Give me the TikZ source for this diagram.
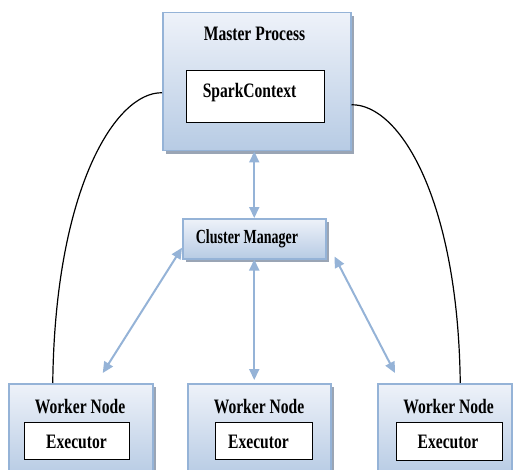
\documentclass[tikz,border=0pt]{standalone}
\usepackage{fontspec}
\setmainfont{Liberation Serif}
\newfontfamily\lblfont[FakeStretch=0.76]{Liberation Serif}
\newfontfamily\cmfont[FakeStretch=0.70]{Liberation Serif}
\usetikzlibrary{arrows.meta,shadows}
\definecolor{bordblue}{HTML}{95B3D7}
\definecolor{topfill}{HTML}{EEF2F9}
\definecolor{botfill}{HTML}{B7CBE4}
\definecolor{shadowgray}{HTML}{9AA5B5}
\definecolor{arrblue}{HTML}{95B3D7}
\begin{document}
\begin{tikzpicture}[x=1pt,y=-1pt,
  outerbox/.style={rectangle, draw=bordblue, line width=1.5pt, top color=topfill, bottom color=botfill,
    drop shadow={shadow xshift=3pt, shadow yshift=-3pt, fill=shadowgray, opacity=1},
    inner sep=0pt, anchor=north west},
  innerbox/.style={rectangle, draw=black, line width=1.4pt, fill=white, inner sep=0pt, anchor=north west},
  lbl/.style={inner sep=0pt, anchor=base, font=\fontsize{20.5}{24}\lblfont\bfseries},
  cmlbl/.style={inner sep=0pt, anchor=base, font=\fontsize{20}{24}\cmfont\bfseries},
  arr/.style={draw=arrblue, line width=2pt, {Triangle[length=11pt,width=10pt]}-{Triangle[length=11pt,width=10pt]}},
  curve/.style={draw=black, line width=1.2pt}]
\useasboundingbox (0,0) rectangle (513,470);

% Master
\node[outerbox, minimum width=188pt, minimum height=138pt] (master) at (162,12) {};
\node[lbl] (mastertxt) at (254.5,41) {Master Process};
\node[innerbox, minimum width=138pt, minimum height=52pt] (spark) at (186,70) {};
\node[lbl] (sparktxt) at (249.5,98) {SparkContext};

% Cluster manager
\node[outerbox, minimum width=143pt, minimum height=40pt] (cm) at (182,218) {};
\node[cmlbl] (cmtxt) at (247,243) {Cluster Manager};

% Workers
\node[outerbox, minimum width=144pt, minimum height=92pt] (w1) at (8,383) {};
\node[outerbox, minimum width=143pt, minimum height=92pt] (w2) at (187,383) {};
\node[outerbox, minimum width=134pt, minimum height=92pt] (w3) at (377,383) {};
\node[lbl] (w1txt) at (80,413) {Worker Node};
\node[lbl] (w2txt) at (259,413) {Worker Node};
\node[lbl] (w3txt) at (448.5,413) {Worker Node};
\node[innerbox, minimum width=105pt, minimum height=37pt] (e1) at (24,422) {};
\node[innerbox, minimum width=97pt, minimum height=37pt] (e2) at (215,422) {};
\node[innerbox, minimum width=106pt, minimum height=38pt] (e3) at (396,422) {};
\node[lbl] (e1txt) at (76.5,448) {Executor};
\node[lbl] (e2txt) at (258.5,448) {Executor};
\node[lbl] (e3txt) at (448,448) {Executor};

% Curves
\draw[curve] ([yshift=-11pt]master.west) .. controls (115,92) and (55,190) .. ([xshift=-28pt]w1.north);
\draw[curve] ([yshift=-23pt]master.east) .. controls (400,104) and (458,200) .. ([xshift=15.5pt]w3.north);

% Arrows
\draw[arr] (cm.north |- master.south) -- (cm.north);
\draw[arr] (cm.south) -- ([yshift=3pt]cm.south |- w2.north);
\draw[arr] ([yshift=-9pt]cm.west) -- ([xshift=22pt,yshift=10pt]w1.north);
\draw[arr] ([xshift=8pt,yshift=3pt]cm.south east) -- ([xshift=18pt,yshift=10pt]w3.north west);
\end{tikzpicture}
\end{document}
